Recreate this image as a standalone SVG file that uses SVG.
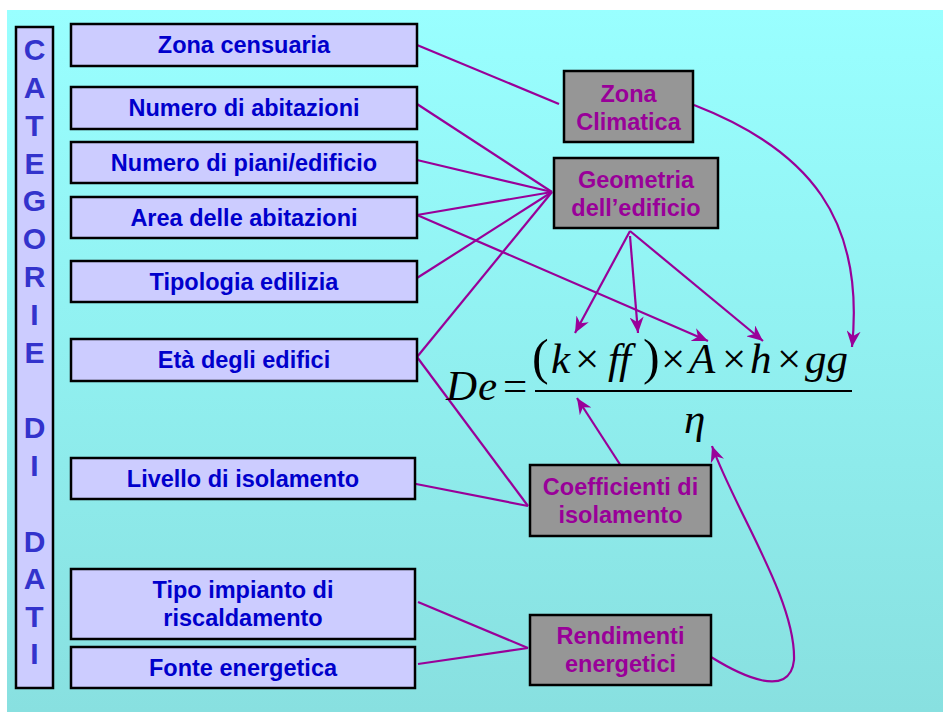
<svg xmlns="http://www.w3.org/2000/svg" width="943" height="712" viewBox="0 0 943 712">
<defs>
<linearGradient id="bg" x1="0" y1="0" x2="0" y2="1">
<stop offset="0" stop-color="#99FFFF"/>
<stop offset="1" stop-color="#88E0E0"/>
</linearGradient>
<marker id="ah" markerUnits="userSpaceOnUse" markerWidth="17" markerHeight="14" refX="16" refY="7" orient="auto" viewBox="0 0 17 14">
<path d="M0,0 L16,7 L0,14 L5,7 z" fill="#990099"/>
</marker>
</defs>
<style>
.in rect{fill:#CCCCFF;stroke:#000;stroke-width:2.5}
.in text{font-family:"Liberation Sans",Arial,sans-serif;font-weight:bold;font-size:23.5px;fill:#0000CC;text-anchor:middle}
.mid rect{fill:#969696;stroke:#000;stroke-width:2.5}
.mid text{font-family:"Liberation Sans",Arial,sans-serif;font-weight:bold;font-size:23.5px;fill:#990099;text-anchor:middle}
.cat text{font-family:"Liberation Sans",Arial,sans-serif;font-weight:bold;font-size:30px;fill:#3333CC;text-anchor:middle}
.conn path{fill:none;stroke:#990099;stroke-width:2.2}
.arr{marker-end:url(#ah)}
.f{font-family:"Liberation Serif","Times New Roman",serif;font-size:43px;fill:#000}
.i{font-style:italic}
.p{font-size:50px}
</style>
<rect x="7" y="10" width="936" height="702" fill="url(#bg)"/>

<g id="categorie" class="cat">
<rect x="16" y="27" width="37" height="661" fill="#CCCCFF" stroke="#000" stroke-width="2.5"/>
<text x="34.5" y="60">C</text>
<text x="34.5" y="98">A</text>
<text x="34.5" y="135.5">T</text>
<text x="34.5" y="173.5">E</text>
<text x="34.5" y="211">G</text>
<text x="34.5" y="249">O</text>
<text x="34.5" y="287">R</text>
<text x="34.5" y="324.5">I</text>
<text x="34.5" y="362.5">E</text>
<text x="34.5" y="438">D</text>
<text x="34.5" y="476">I</text>
<text x="34.5" y="551.5">D</text>
<text x="34.5" y="589">A</text>
<text x="34.5" y="627">T</text>
<text x="34.5" y="664">I</text>
</g>

<g id="connectors" class="conn">
<path d="M417,45 L559,104"/>
<path d="M417,104 L552,192"/>
<path d="M417,160 L552,192"/>
<path d="M417,215 L552,192"/>
<path d="M417,278 L552,192"/>
<path d="M417,357 L552,192"/>
<path d="M417,357 L528,506"/>
<path d="M411,483 L528,506"/>
<path d="M418,602 L528,648"/>
<path d="M418,664 L528,648"/>
<path class="arr" d="M417,215 L708,341"/>
<path class="arr" d="M630,231 L575,333"/>
<path class="arr" d="M630,236 L638,333"/>
<path class="arr" d="M630,231 L763,341"/>
<path class="arr" d="M694,105 C810,150 865,220 852,347"/>
<path class="arr" d="M621,466 L577,398"/>
<path class="arr" d="M711,657 C740,675 790,700 794,660 C796,600 735,510 712,446"/>
</g>

<g id="zona-censuaria" class="in"><rect x="71" y="24" width="346" height="42"/><text x="244" y="53">Zona censuaria</text></g>
<g id="numero-abitazioni" class="in"><rect x="71" y="87" width="346" height="42"/><text x="244" y="116">Numero di abitazioni</text></g>
<g id="numero-piani" class="in"><rect x="71" y="142" width="346" height="41"/><text x="244" y="171">Numero di piani/edificio</text></g>
<g id="area-abitazioni" class="in"><rect x="71" y="197" width="346" height="41"/><text x="244" y="226">Area delle abitazioni</text></g>
<g id="tipologia" class="in"><rect x="71" y="261" width="346" height="41"/><text x="244" y="290">Tipologia edilizia</text></g>
<g id="eta" class="in"><rect x="71" y="339" width="346" height="42"/><text x="244" y="368">Età degli edifici</text></g>
<g id="livello" class="in"><rect x="71" y="458" width="344" height="41"/><text x="243" y="487">Livello di isolamento</text></g>
<g id="tipo-impianto" class="in"><rect x="71" y="569" width="344" height="70"/><text x="243" y="598">Tipo impianto di</text><text x="243" y="626">riscaldamento</text></g>
<g id="fonte" class="in"><rect x="71" y="647" width="344" height="41"/><text x="243" y="676">Fonte energetica</text></g>

<g id="zona-climatica" class="mid"><rect x="564" y="71" width="129" height="71"/><text x="628.5" y="102">Zona</text><text x="628.5" y="130">Climatica</text></g>
<g id="geometria" class="mid"><rect x="554" y="158" width="164" height="70"/><text x="636" y="188">Geometria</text><text x="636" y="216">dell’edificio</text></g>
<g id="coefficienti" class="mid"><rect x="530" y="465" width="181" height="71"/><text x="620.5" y="495">Coefficienti di</text><text x="620.5" y="523">isolamento</text></g>
<g id="rendimenti" class="mid"><rect x="530" y="615" width="181" height="70"/><text x="620.5" y="644">Rendimenti</text><text x="620.5" y="672">energetici</text></g>

<g id="formula">
<text class="f i" x="446" y="400">D<tspan dx="1">e</tspan></text>
<text class="f" x="503" y="400">=</text>
<line x1="535" y1="391" x2="852" y2="391" stroke="#000" stroke-width="2"/>
<text class="f p" x="532" y="374">(</text>
<text class="f i" x="551" y="373">k</text>
<text class="f" x="575" y="373">×</text>
<text class="f i" x="608" y="373">f<tspan dx="-1">f</tspan></text>
<text class="f p" x="643" y="374">)</text>
<text class="f" x="661" y="373">×</text>
<text class="f i" x="689" y="373">A</text>
<text class="f" x="722" y="373">×</text>
<text class="f i" x="750" y="373">h</text>
<text class="f" x="777" y="373">×</text>
<text class="f i" x="805" y="373">gg</text>
<text class="f i" x="684" y="433">η</text>
</g>
</svg>
